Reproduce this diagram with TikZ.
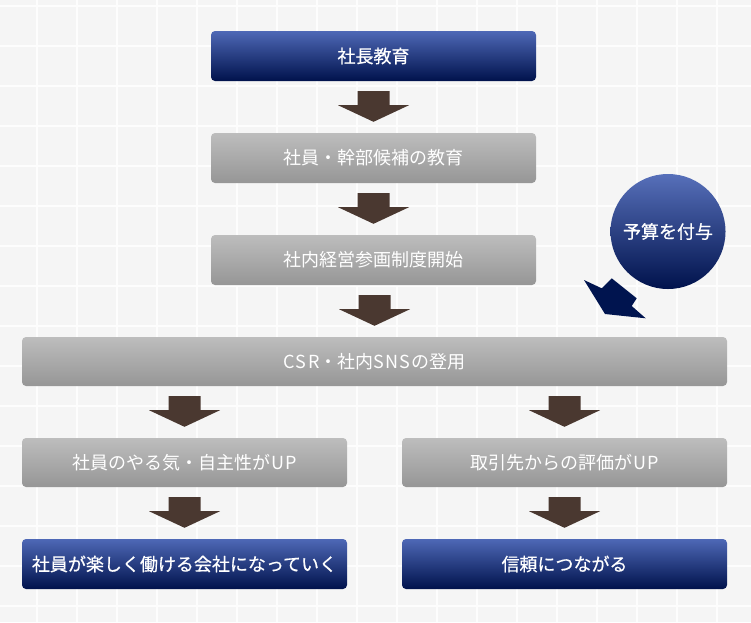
\documentclass[tikz,border=0pt]{standalone}
\usepackage{fontspec}
\setmainfont{Noto Sans CJK JP}
\newfontfamily\medfont[FakeBold=0.6]{Noto Sans CJK JP}
\usetikzlibrary{calc}
\definecolor{bgc}{HTML}{F5F5F5}
\definecolor{gridc}{HTML}{FDFDFD}
\definecolor{arrowbrown}{HTML}{4A3830}
\definecolor{bluetop}{HTML}{4E68B6}
\definecolor{bluebot}{HTML}{00124C}
\definecolor{graytop}{HTML}{BDBDBD}
\definecolor{graybot}{HTML}{969696}
\definecolor{navy}{HTML}{00144F}
\newcommand\ks{\kern1.3pt}
\newcommand\brownarrow[2]{%
  \fill[arrowbrown] let \p1=(#1.south), \p2=(#2.north) in
    (\x2-16pt,\y1-10pt) -- (\x2+16pt,\y1-10pt) -- (\x2+16pt,\y1-24pt)
    -- (\x2+35.5pt,\y1-24pt) -- (\x2,\y2+11pt) -- (\x2-35.5pt,\y1-24pt)
    -- (\x2-16pt,\y1-24pt) -- cycle;}
\begin{document}
\begin{tikzpicture}[x=1pt,y=-1pt,
  box/.style={rectangle,rounded corners=4pt,text=white,inner sep=0pt,
    font=\fontsize{18}{20}\selectfont},
  bluebox/.style={box,top color=bluetop,bottom color=bluebot,
    font=\fontsize{18}{20}\selectfont\medfont},
  graybox/.style={box,top color=graytop,bottom color=graybot}]
\fill[bgc] (0,0) rectangle (751,622);
\useasboundingbox (0,0) rectangle (751,622);
\foreach \i in {0,...,18} {
  \fill[gridc] (36+40*\i,0) rectangle (37.5+40*\i,622);
}
\foreach \j in {0,...,15} {
  \fill[gridc] (0,5.3+40*\j) rectangle (751,6.8+40*\j);
}
% boxes
\node[bluebox,minimum width=325,minimum height=50] (b1) at (373.5,56) {社長教育};
\node[graybox,minimum width=325,minimum height=50] (b2) at (373.5,158) {社員・幹部候補の教育};
\node[graybox,minimum width=325,minimum height=50] (b3) at (373.5,260) {社内経営参画制度開始};
\node[graybox,minimum width=705,minimum height=49] (b4) at (374.5,361.5) {C\ks S\ks R・社内S\ks N\ks S\ks の登用};
\node[graybox,minimum width=325,minimum height=49] (l1) at (184.5,462.5) {社員のやる気・自主性が\ks U\ks P};
\node[graybox,minimum width=325,minimum height=49] (r1) at (564.5,462.5) {取引先からの評価が\ks U\ks P};
\node[bluebox,minimum width=325,minimum height=50] (l2) at (184.5,564) {社員が楽しく働ける会社になっていく};
\node[bluebox,minimum width=325,minimum height=50] (r2) at (564.5,564) {信頼につながる};
% budget circle
\node[circle,top color=bluetop!95!white,bottom color=bluebot,text=white,
  minimum size=115,inner sep=0pt,font=\fontsize{18}{20}\selectfont\medfont] (c) at (668,231.5) {予算を付与};
% arrows
\brownarrow{b1}{b2}
\brownarrow{b2}{b3}
\brownarrow{b3}{b4}
\brownarrow{b4}{l1}
\brownarrow{b4}{r1}
\brownarrow{l1}{l2}
\brownarrow{r1}{r2}
% budget arrow
\fill[navy] (584,280) -- (601.7,288.3) -- (611.7,278.3) -- (636.7,298.3)
  -- (631.7,306) -- (645.7,318.3) -- (605,314) -- cycle;
\end{tikzpicture}
\end{document}
